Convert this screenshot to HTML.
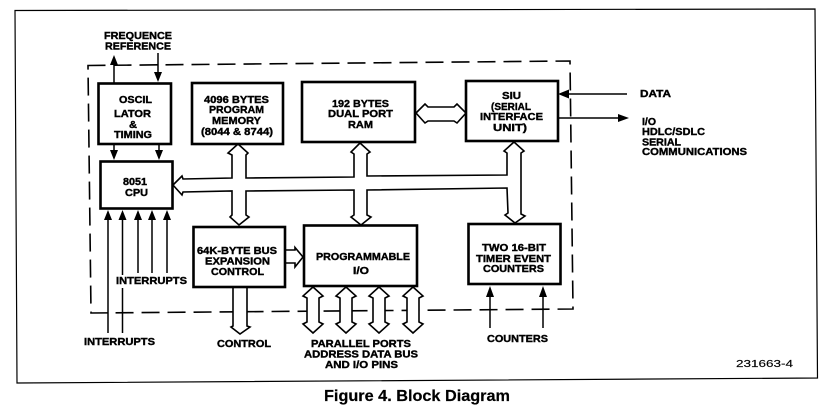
<!DOCTYPE html>
<html><head><meta charset="utf-8"><style>
html,body{margin:0;padding:0;background:#fff;width:833px;height:411px;overflow:hidden}
svg{display:block;filter:blur(.35px)}
text{font-family:"Liberation Sans",sans-serif;font-weight:bold;font-size:10.5px;fill:#000;stroke:#000;stroke-width:.4px}
.b{fill:#fff;stroke:#000;stroke-width:2.6}
.l{fill:none;stroke:#000;stroke-width:1.5}
.f{fill:none;stroke:#000;stroke-width:1.2}
.d{fill:#fff;stroke:#000;stroke-width:1.6;stroke-linejoin:miter}
.a{fill:#000;stroke:none}
</style></head><body>
<svg width="833" height="411" viewBox="0 0 833 411" xmlns="http://www.w3.org/2000/svg">
<!-- outer frame -->
<path class="f" d="M15 10.500 L815 9 L817.500 378 L17 383 Z"/>
<!-- dashed boundary -->
<path d="M88 66 L88 65.500 L570 61 L573 309 L91 313 Z" fill="none" stroke="#000" stroke-width="1.6" stroke-dasharray="18 8"/>

<!-- thin arrows -->
<path class="l" d="M114 83V60M158 53V76M114 144V155M159 144V155M108 333V216M122.500 275V216M122.500 288V333M138 273V216M152 273V216M167 273V216M490 328V292M543 328V292M627 94H566M558 118H622"/>
<path class="a" d="M114 55l-4 10h8zM158 82l-4 -10h8zM114 160l-4 -10h8zM159 160l-4 -10h8zM108 210l-4 10h8zM122.500 210l-4 10h8zM138 210l-4 10h8zM152 210l-4 10h8zM167 210l-4 10h8zM490 286l-4 11h8zM543 286l-4 11h8zM558 94l11 -4.500v9zM629 118l-11 -4v8z"/>

<!-- horizontal bus with vertical arrows -->
<path class="d" d="M173 185 L182 176 L183 179 L232 178 L232 155 L228 153 L238 144 L248 153 L246 155 L246 178 L354 177 L354 154 L351 152 L360 143 L370 152 L367 154 L367 176 L507 175 L507 153 L504 151 L514 142 L524 151 L521 153 L521 214 L525 216 L515 223 L505 215 L508 213 L507 188 L367 190 L367 215 L371 217 L361 225 L351 217 L354 215 L354 190 L246 191 L246 215 L249 217 L239 225 L230 217 L232 215 L232 191 L183 192 L182 195 Z"/>

<!-- RAM-SIU -->
<path class="d" d="M416 113 L425 104 L428 107 L454 107 L457 104 L466 113 L457 123 L454 121 L428 121 L425 123 Z"/>
<!-- bus expansion to IO -->
<path class="d" d="M285 250 H295 V247.500 L303 257 L295 267 V263 H285 Z"/>
<!-- control -->
<path class="d" d="M233 287 H247 V326 L250 327 L240 334 L231 327 L233 326 Z"/>
<!-- parallel ports -->
<path class="d" d="M313 287 L323 296 L319 298 V322 L323 324 L313 333 L303 324 L307 322 V298 L303 296 Z"/>
<path class="d" d="M346 287 L356 296 L352 298 V322 L356 324 L346 333 L336 324 L340 322 V298 L336 296 Z"/>
<path class="d" d="M379 287 L389 296 L385 298 V322 L389 324 L379 333 L369 324 L373 322 V298 L369 296 Z"/>
<path class="d" d="M413 287 L423 296 L419 298 V322 L423 324 L413 333 L403 324 L407 322 V298 L403 296 Z"/>

<!-- boxes -->
<rect class="b" x="98.500" y="83.500" width="72.500" height="60.500"/>
<rect class="b" x="100.500" y="161.500" width="72" height="47"/>
<rect class="b" x="192" y="83" width="91" height="61"/>
<rect class="b" x="302" y="82" width="113" height="60"/>
<rect class="b" x="466" y="81" width="92" height="60"/>
<rect class="b" x="193.500" y="227" width="91.500" height="60"/>
<rect class="b" x="304" y="225.500" width="113" height="60.500"/>
<rect class="b" x="468.500" y="224" width="92" height="60"/>

<!-- labels -->
<text x="104" y="39" textLength="68" lengthAdjust="spacingAndGlyphs">FREQUENCE</text>
<text x="105" y="49.500" textLength="66" lengthAdjust="spacingAndGlyphs">REFERENCE</text>
<text x="119" y="103" textLength="33" lengthAdjust="spacingAndGlyphs">OSCIL</text>
<text x="114" y="117" textLength="37" lengthAdjust="spacingAndGlyphs">LATOR</text>
<text x="129" y="128" textLength="8" lengthAdjust="spacingAndGlyphs">&amp;</text>
<text x="114" y="138" textLength="38" lengthAdjust="spacingAndGlyphs">TIMING</text>
<text x="204" y="103" textLength="65" lengthAdjust="spacingAndGlyphs">4096 BYTES</text>
<text x="209" y="113" textLength="55" lengthAdjust="spacingAndGlyphs">PROGRAM</text>
<text x="212" y="124" textLength="49" lengthAdjust="spacingAndGlyphs">MEMORY</text>
<text x="201" y="135" textLength="72" lengthAdjust="spacingAndGlyphs">(8044 &amp; 8744)</text>
<text x="123" y="185" textLength="24" lengthAdjust="spacingAndGlyphs">8051</text>
<text x="125" y="196" textLength="23" lengthAdjust="spacingAndGlyphs">CPU</text>
<text x="332" y="107" textLength="57" lengthAdjust="spacingAndGlyphs">192 BYTES</text>
<text x="328" y="117" textLength="65" lengthAdjust="spacingAndGlyphs">DUAL PORT</text>
<text x="348" y="128" textLength="25" lengthAdjust="spacingAndGlyphs">RAM</text>
<text x="502" y="99" textLength="19" lengthAdjust="spacingAndGlyphs">SIU</text>
<text x="491" y="110" textLength="40" lengthAdjust="spacingAndGlyphs">(SERIAL</text>
<text x="480" y="120" textLength="63" lengthAdjust="spacingAndGlyphs">INTERFACE</text>
<text x="493" y="131" textLength="34" lengthAdjust="spacingAndGlyphs">UNIT)</text>
<text x="197" y="254" textLength="80" lengthAdjust="spacingAndGlyphs">64K-BYTE BUS</text>
<text x="205" y="264.500" textLength="65" lengthAdjust="spacingAndGlyphs">EXPANSION</text>
<text x="211" y="275" textLength="53" lengthAdjust="spacingAndGlyphs">CONTROL</text>
<text x="316" y="260" textLength="94" lengthAdjust="spacingAndGlyphs">PROGRAMMABLE</text>
<text x="353" y="274" textLength="16" lengthAdjust="spacingAndGlyphs">I/O</text>
<text x="482" y="251" textLength="64" lengthAdjust="spacingAndGlyphs">TWO 16-BIT</text>
<text x="476" y="262" textLength="75" lengthAdjust="spacingAndGlyphs">TIMER EVENT</text>
<text x="483" y="272" textLength="61" lengthAdjust="spacingAndGlyphs">COUNTERS</text>
<text x="116" y="284" textLength="71" lengthAdjust="spacingAndGlyphs">INTERRUPTS</text>
<text x="84" y="345" textLength="71" lengthAdjust="spacingAndGlyphs">INTERRUPTS</text>
<text x="217" y="347" textLength="54" lengthAdjust="spacingAndGlyphs">CONTROL</text>
<text x="311" y="347" textLength="100" lengthAdjust="spacingAndGlyphs">PARALLEL PORTS</text>
<text x="304" y="357.500" textLength="114" lengthAdjust="spacingAndGlyphs">ADDRESS DATA BUS</text>
<text x="325" y="368" textLength="73" lengthAdjust="spacingAndGlyphs">AND I/O PINS</text>
<text x="487" y="342" textLength="61" lengthAdjust="spacingAndGlyphs">COUNTERS</text>
<text x="640" y="97" textLength="31" lengthAdjust="spacingAndGlyphs">DATA</text>
<text x="642" y="125" textLength="14" lengthAdjust="spacingAndGlyphs">I/O</text>
<text x="642" y="135" textLength="63" lengthAdjust="spacingAndGlyphs">HDLC/SDLC</text>
<text x="642" y="145.500" textLength="39" lengthAdjust="spacingAndGlyphs">SERIAL</text>
<text x="642" y="155" textLength="105" lengthAdjust="spacingAndGlyphs">COMMUNICATIONS</text>
<text x="736" y="367" textLength="57" lengthAdjust="spacingAndGlyphs" style="font-weight:normal;stroke-width:.15px">231663-4</text>
<text x="324" y="401" textLength="186" lengthAdjust="spacingAndGlyphs" style="font-size:15.5px;stroke-width:.2px">Figure 4. Block Diagram</text>
</svg>
</body></html>
